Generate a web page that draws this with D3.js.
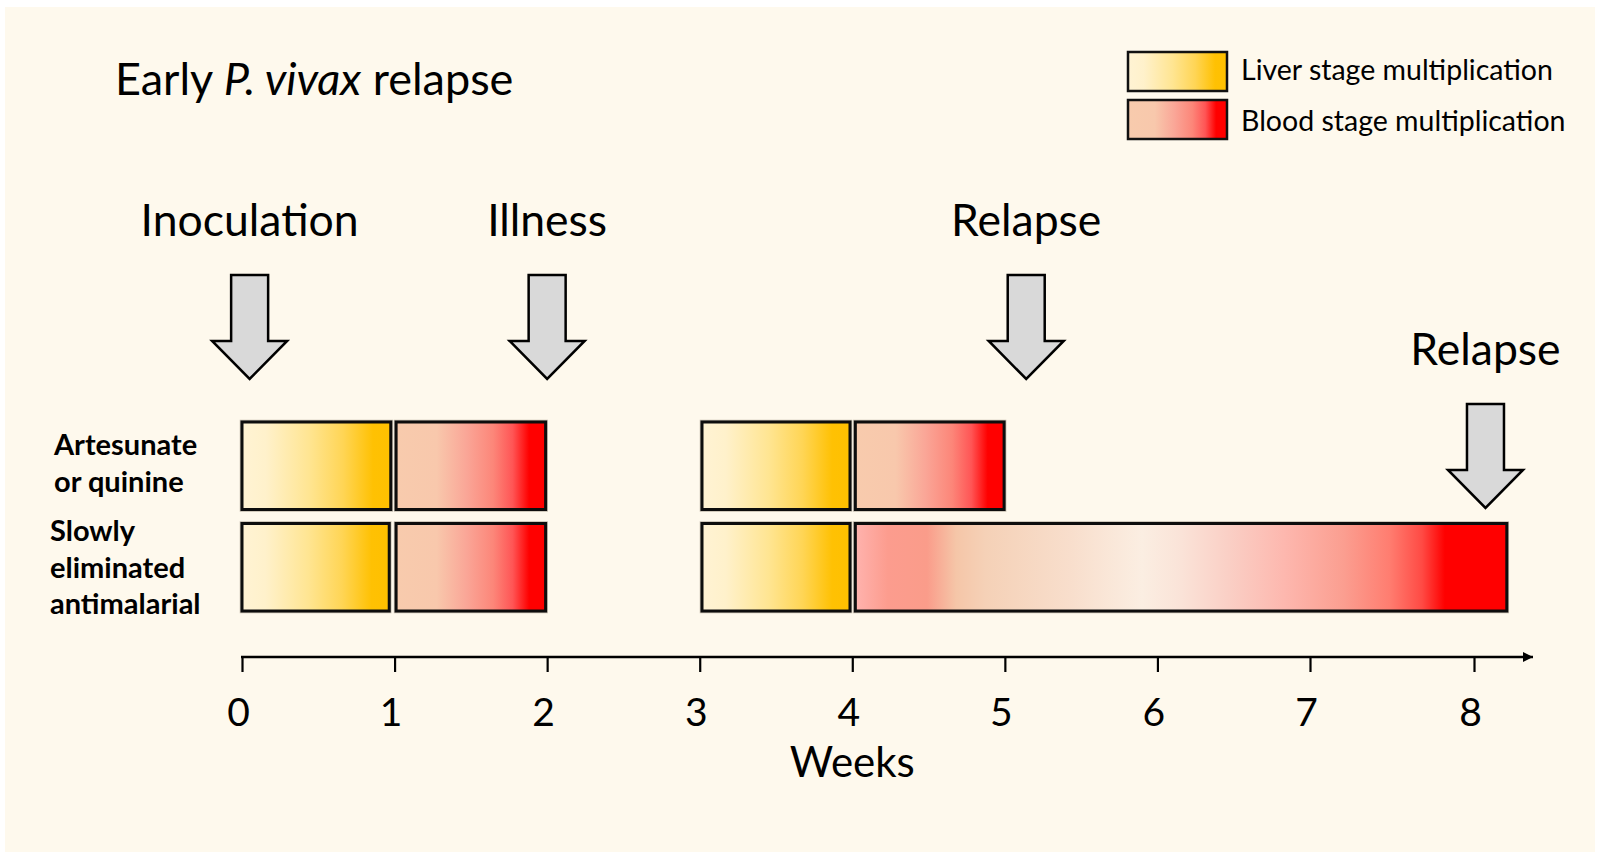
<!DOCTYPE html>
<html>
<head>
<meta charset="utf-8">
<script src="https://cdn.jsdelivr.net/npm/d3@7"></script>
<style>
  html, body { margin: 0; padding: 0; background: #ffffff; }
  svg { display: block; }
  text { font-family: Lato, "Open Sans", sans-serif; fill: #000; }
</style>
</head>
<body>
<svg id="chart" width="1598" height="857"></svg>
<script>
// ---------- data ----------
const titleParts = ["Early ", "P. vivax", " relapse"];
const rowLabels = [["Artesunate", "or quinine"], ["Slowly", "eliminated", "antimalarial"]];
const rows = ["Artesunate or quinine", "Slowly eliminated antimalarial"];

const segRow   = [0, 0, 0, 0, 1, 1, 1, 1];
const segStage = ["liver", "blood", "liver", "blood", "liver", "blood", "liver", "bloodLong"];
const segStart = [0, 1.01, 3.015, 4.02, 0, 1.01, 3.015, 4.02];
const segEnd   = [0.975, 1.99, 3.985, 4.995, 0.965, 1.99, 3.985, 8.2];

const eventLabels = ["Inoculation", "Illness", "Relapse", "Relapse"];
const eventWeeks  = [0.05, 2.0, 5.14, 8.07];
const eventTier   = [0, 0, 0, 1];

const tickValues = [0, 1, 2, 3, 4, 5, 6, 7, 8];
const tickLabels = ["0", "1", "2", "3", "4", "5", "6", "7", "8"];
const axisTitle = "Weeks";

const legendLabels = ["Liver stage multiplication", "Blood stage multiplication"];
const legendStages = ["liver", "blood"];

// ---------- setup ----------
const svg = d3.select("#chart");
svg.append("rect").attr("x", 5).attr("y", 7).attr("width", 1590).attr("height", 845).attr("fill", "#FEF9ED");

const defs = svg.append("defs");
const gradStops = {
  liver: [[0, "#FFF3D4"], [0.16, "#FFF1CB"], [0.45, "#FFE592"], [0.68, "#FFD555"], [0.88, "#FFC103"], [1, "#FFC000"]],
  blood: [[0, "#F8CBAD"], [0.27, "#F8C8AC"], [0.47, "#FAA697"], [0.65, "#FC8679"], [0.78, "#FF5555"], [0.89, "#FF0000"], [1, "#FF0000"]],
  bloodLong: [[0, "#FFB3AE"], [0.05, "#FC9C8E"], [0.11, "#FA9C8A"], [0.155, "#F5C6A8"], [0.2, "#F5D1B7"], [0.33, "#F8DECC"], [0.44, "#FBEEE2"], [0.5, "#FAE3D8"], [0.57, "#FAD0C6"], [0.66, "#FDB7AE"], [0.75, "#FB9E90"], [0.82, "#FF7D70"], [0.87, "#FF4A44"], [0.905, "#FF0000"], [1, "#FF0000"]]
};
Object.keys(gradStops).forEach(k => {
  const g = defs.append("linearGradient").attr("id", "g-" + k)
    .attr("x1", "0%").attr("x2", "100%").attr("y1", "0%").attr("y2", "0%");
  gradStops[k].forEach(s => g.append("stop").attr("offset", s[0]).attr("stop-color", s[1]));
});
defs.append("marker").attr("id", "axArrow").attr("viewBox", "0 0 10 10")
  .attr("refX", 10).attr("refY", 5).attr("markerWidth", 11).attr("markerHeight", 10)
  .attr("markerUnits", "userSpaceOnUse").attr("orient", "auto")
  .append("path").attr("d", "M0,0 L10,5 L0,10 Z").attr("fill", "#000");

// scales
const x = d3.scaleLinear().domain([0, 7, 8]).range([242, 1310, 1474]);
const y = d3.scaleBand().domain(rows).range([422, 611]).paddingInner(0.138);

// ---------- title ----------
const title = svg.append("text").attr("x", 115).attr("y", 95).attr("font-size", 45);
titleParts.forEach((t, i) => title.append("tspan").text(t).attr("font-style", i === 1 ? "italic" : "normal"));

// ---------- legend ----------
const leg = svg.append("g");
legendLabels.forEach((lab, i) => {
  const yy = 52 + i * 48;
  leg.append("rect").attr("x", 1128).attr("y", yy).attr("width", 99).attr("height", 39)
    .attr("fill", "url(#g-" + legendStages[i] + ")").attr("stroke", "#111").attr("stroke-width", 2.5);
  leg.append("text").attr("x", 1241).attr("y", yy + 28 + i * 2.5).attr("font-size", 28.5).text(lab);
});

// ---------- row labels ----------
rowLabels.forEach((lines, r) => {
  const t = svg.append("text").attr("font-weight", 700).attr("font-size", 29);
  const x0 = r === 0 ? 54 : 50;
  const y0 = r === 0 ? 455 : 541;
  lines.forEach((ln, j) => t.append("tspan").attr("x", x0).attr("y", y0 + j * 36.5).text(ln));
});

// ---------- bars ----------
const segs = segRow.map((r, i) => ({ row: rows[r], stage: segStage[i], s: segStart[i], e: segEnd[i] }));
const barG = svg.append("g");
barG.selectAll("rect.halo").data(segs).join("rect").attr("class", "halo")
  .attr("x", d => x(d.s)).attr("y", d => y(d.row))
  .attr("width", d => x(d.e) - x(d.s)).attr("height", y.bandwidth())
  .attr("fill", "none").attr("stroke", "#9a9080").attr("stroke-width", 4.5).attr("stroke-opacity", 0.6);
barG.selectAll("rect.bar").data(segs).join("rect").attr("class", "bar")
  .attr("x", d => x(d.s)).attr("y", d => y(d.row))
  .attr("width", d => x(d.e) - x(d.s)).attr("height", y.bandwidth())
  .attr("fill", d => "url(#g-" + d.stage + ")")
  .attr("stroke", "#0d0d0d").attr("stroke-width", 3);

// ---------- event arrows ----------
const events = eventLabels.map((l, i) => ({ label: l, w: eventWeeks[i], tier: eventTier[i] }));
const tierTop = [275, 404];
const sw = 18.5, hw = 37.5, shaftH = 66, headH = 38;
const arrowPath = (cx, top) => {
  const p = d3.path();
  p.moveTo(cx - sw, top); p.lineTo(cx + sw, top); p.lineTo(cx + sw, top + shaftH);
  p.lineTo(cx + hw, top + shaftH); p.lineTo(cx, top + shaftH + headH);
  p.lineTo(cx - hw, top + shaftH); p.lineTo(cx - sw, top + shaftH); p.closePath();
  return p.toString();
};
const evG = svg.append("g");
evG.selectAll("path").data(events).join("path")
  .attr("d", d => arrowPath(x(d.w), tierTop[d.tier]))
  .attr("fill", "#D9D9D9").attr("stroke", "#000").attr("stroke-width", 2.5).attr("stroke-linejoin", "miter");
evG.selectAll("text").data(events).join("text")
  .attr("x", d => x(d.w)).attr("y", d => tierTop[d.tier] - 39)
  .attr("text-anchor", "middle").attr("font-size", 44.5).text(d => d.label);

// ---------- axis ----------
const axisY = 657;
const axG = svg.append("g").attr("transform", `translate(0,${axisY})`)
  .call(d3.axisBottom(x).tickValues(tickValues).tickFormat((d, i) => tickLabels[i]).tickSize(15).tickSizeOuter(0));
axG.select(".domain").remove();
axG.selectAll(".tick line").attr("stroke", "#000").attr("stroke-width", 2.2);
axG.selectAll(".tick text").attr("y", 69).attr("dy", 0).attr("dx", -4)
  .attr("font-size", 39).attr("font-family", "Lato, sans-serif").attr("fill", "#000");
svg.append("line").attr("x1", x(0) - 1).attr("x2", 1533).attr("y1", axisY).attr("y2", axisY)
  .attr("stroke", "#000").attr("stroke-width", 2.5).attr("marker-end", "url(#axArrow)");
svg.append("text").attr("x", x(4)).attr("y", 777).attr("text-anchor", "middle").attr("font-size", 42).text(axisTitle);
</script>
</body>
</html>
